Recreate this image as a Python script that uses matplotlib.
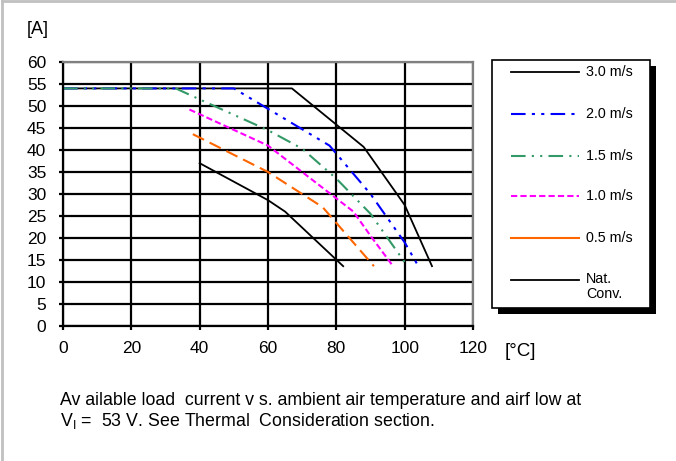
import matplotlib
matplotlib.use("Agg")
import matplotlib.pyplot as plt
from matplotlib.lines import Line2D
from matplotlib.patches import Rectangle

plt.rcParams['font.family'] = ['Liberation Sans', 'DejaVu Sans']

# derating curves, temperature [C] vs current [A]
t_30 = [0, 67, 88, 100, 108]
i_30 = [54, 54, 40.7, 27.5, 13.6]

t_20 = [0, 50, 78, 90, 100, 104]
i_20 = [54, 54, 41, 30, 19, 13.6]

t_15 = [0, 33, 40, 60, 70, 80, 90, 100]
i_15 = [54, 54, 51.5, 44.5, 40.3, 33.5, 25.5, 14.5]

t_10 = [37, 60, 80, 85, 90, 96.5]
i_10 = [49.2, 41, 29, 26, 20.5, 13.7]

t_05 = [38, 60, 76, 91]
i_05 = [43.6, 35, 27, 13.6]

t_nc = [40, 60, 65, 82]
i_nc = [37, 28.6, 26, 13.6]

labels = ['3.0 m/s', '2.0 m/s', '1.5 m/s', '1.0 m/s', '0.5 m/s', 'Nat.\nConv.']
styles = [
    dict(color='black', lw=1.3),
    dict(color='#0000ff', lw=1.5, dashes=(7, 3, 1.5, 3, 1.5, 3)),
    dict(color='#339966', lw=1.5, dashes=(7, 3, 1, 3, 1, 3)),
    dict(color='#ff00ff', lw=1.5, dashes=(3, 1.5)),
    dict(color='#ff6600', lw=1.5, dashes=(6, 3)),
    dict(color='black', lw=1.3),
]

fig = plt.figure(figsize=(6.76, 4.61), dpi=100)
ax = fig.add_axes([63/676, 1-326/461, 410/676, 264/461])

curves = [(t_30, i_30), (t_20, i_20), (t_15, i_15), (t_10, i_10), (t_05, i_05), (t_nc, i_nc)]
for (t, i), st in zip(curves, styles):
    ax.plot(t, i, **st)

ax.set_xlim(0, 120)
ax.set_ylim(0, 60)
ax.set_xticks(range(0, 121, 20))
ax.set_yticks(range(0, 61, 5))
ax.grid(True, color='black', lw=1.6)
ax.tick_params(direction='out', length=3, width=1.6, labelsize=12.5, color='black')
ax.tick_params(axis='y', pad=9)
ax.tick_params(axis='x', pad=8)
for s in ['top', 'right']:
    ax.spines[s].set_color('#808080')
    ax.spines[s].set_linewidth(1.6)
for s in ['left', 'bottom']:
    ax.spines[s].set_linewidth(1.6)
ax.set_axisbelow(True)

fig.text(27/676, 1-30/461, '[A]', fontsize=13, va='center')
fig.text(505/676, 1-352/461, '[°C]', fontsize=13.5, va='center')

# legend box drawn in pixel coordinates
lg = fig.add_axes([0, 0, 1, 1], zorder=5)
lg.set_xlim(0, 676)
lg.set_ylim(461, 0)
lg.axis('off')
lg.add_patch(Rectangle((498, 66), 158, 248, facecolor='black', edgecolor='none'))
lg.add_patch(Rectangle((492, 60), 158, 248, facecolor='white', edgecolor='black', lw=1.2))
rows = [72, 114, 156, 196, 238, 280]
for y, lab, st in zip(rows, labels, styles):
    st = dict(st)
    if st['color'] == '#ff6600':
        st.pop('dashes')
    lg.plot([511, 579], [y, y], **st)
    if '\n' in lab:
        lg.text(586, y - 8, lab, fontsize=10.3, va='top', linespacing=1.1)
    else:
        lg.text(586, y, lab, fontsize=10.3, va='center')

fig.text(60/676, 1-400/461, 'Av ailable load  current v s. ambient air temperature and airf low at',
         fontsize=12.8, va='center')
fig.text(60/676, 1-421/461, 'V$_\\mathregular{I}$ =  53 V. See Thermal  Consideration section.',
         fontsize=12.8, va='center')

# outer frame
fig.add_artist(Line2D([2/676, 2/676], [0, 1-1/461], color='#c0c0c0', lw=2))
fig.add_artist(Line2D([2/676, 1], [1-1/461, 1-1/461], color='#c0c0c0', lw=2))

fig.savefig('out.png', dpi=100)
